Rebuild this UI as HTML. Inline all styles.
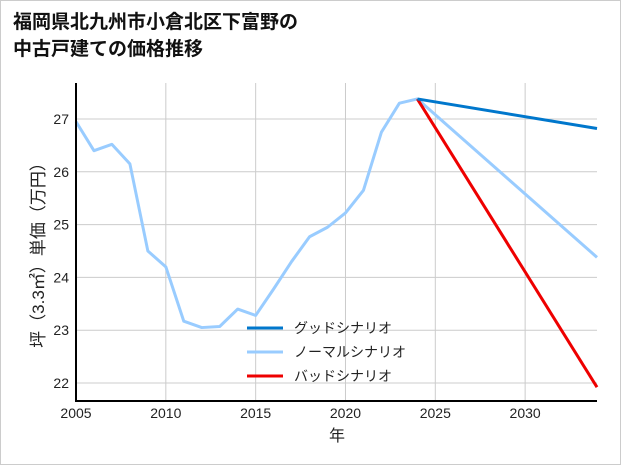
<!DOCTYPE html>
<html><head><meta charset="utf-8"><style>
body{margin:0;background:#fff;}
#wrap{position:relative;width:619px;height:463px;border:1px solid #ccc;background:#fff;font-family:"Liberation Sans","Noto Sans CJK JP",sans-serif;}
#title{position:absolute;left:12px;top:8px;font-size:19px;font-weight:bold;line-height:27px;color:#111;}
svg{position:absolute;left:0;top:0;}
</style></head><body>
<div id="wrap">
<div id="title">福岡県北九州市小倉北区下富野の<br>中古戸建ての価格推移</div>
<svg id="c" width="621" height="465"></svg>
</div>
<script>
const years=[2005,2006,2007,2008,2009,2010,2011,2012,2013,2014,2015,2016,2017,2018,2019,2020,2021,2022,2023,2024];
const normalVals=[26.95,26.4,26.52,26.15,24.5,24.2,23.17,23.05,23.07,23.4,23.28,23.78,24.3,24.77,24.95,25.22,25.65,26.75,27.3,27.38];
const projYears=[2024,2034];
const goodVals=[27.38,26.82];
const normalProj=[27.38,24.38];
const badVals=[27.38,21.92];
const xTicks=[2005,2010,2015,2020,2025,2030];
const yTicks=[22,23,24,25,26,27];
const L=75,R=596,T=82,B=400;
const x=v=>L+(v-2005)/(2034-2005)*(R-L);
const y=v=>118+(27-v)*52.8;
const s=document.getElementById('c');const NS='http://www.w3.org/2000/svg';
function mk(t,a,p){const e=document.createElementNS(NS,t);for(const k in a)e.setAttribute(k,a[k]);(p||s).appendChild(e);return e;}
xTicks.forEach(t=>{const e=mk('line',{x1:x(t),x2:x(t),y1:T,y2:B,stroke:'#ccc','stroke-width':1});


const tx=mk('text',{x:x(t),y:B+17,'text-anchor':'middle','font-size':14,fill:'#222'});tx.textContent=t;

});
yTicks.forEach(t=>{const e=mk('line',{x1:L,x2:R,y1:y(t),y2:y(t),stroke:'#ccc','stroke-width':1});


const tx=mk('text',{x:L-7,y:y(t)+5,'text-anchor':'end','font-size':14,fill:'#222'});tx.textContent=t;

});
function line(xs,vs,c,n){const e=mk('polyline',{points:xs.map((v,i)=>x(v)+','+y(vs[i])).join(' '),fill:'none',stroke:c,'stroke-width':3,'stroke-linejoin':'round'});

}
line(years,normalVals,'#99ccff','normal-history-line');
line(projYears,normalProj,'#99ccff','normal-scenario-line');
line(projYears,badVals,'#ee0000','bad-scenario-line');
line(projYears,goodVals,'#0077cc','good-scenario-line');
let a=mk('line',{x1:L,x2:L,y1:T,y2:B+1,stroke:'#000','stroke-width':2});


a=mk('line',{x1:L-1,x2:R,y1:B,y2:B,stroke:'#000','stroke-width':2});


let xt=mk('text',{x:336,y:440,'text-anchor':'middle','font-size':16,fill:'#222'});xt.textContent='年';


let yt=mk('text',{x:0,y:0,'text-anchor':'middle','font-size':17,fill:'#222',transform:'translate(43,250) rotate(-90)'});yt.textContent='坪（3.3㎡）単価（万円）';


const legNames=['グッドシナリオ','ノーマルシナリオ','バッドシナリオ'];
const legColors=['#0077cc','#99ccff','#ee0000'];
legNames.forEach((n,i)=>{const g=mk('g',{});


const yy=327+i*24;mk('line',{x1:246,x2:282,y1:yy,y2:yy,stroke:legColors[i],'stroke-width':3},g);
const t=mk('text',{x:293,y:yy+5,'font-size':14,fill:'#222'},g);t.textContent=n;});
</script>
</body></html>
